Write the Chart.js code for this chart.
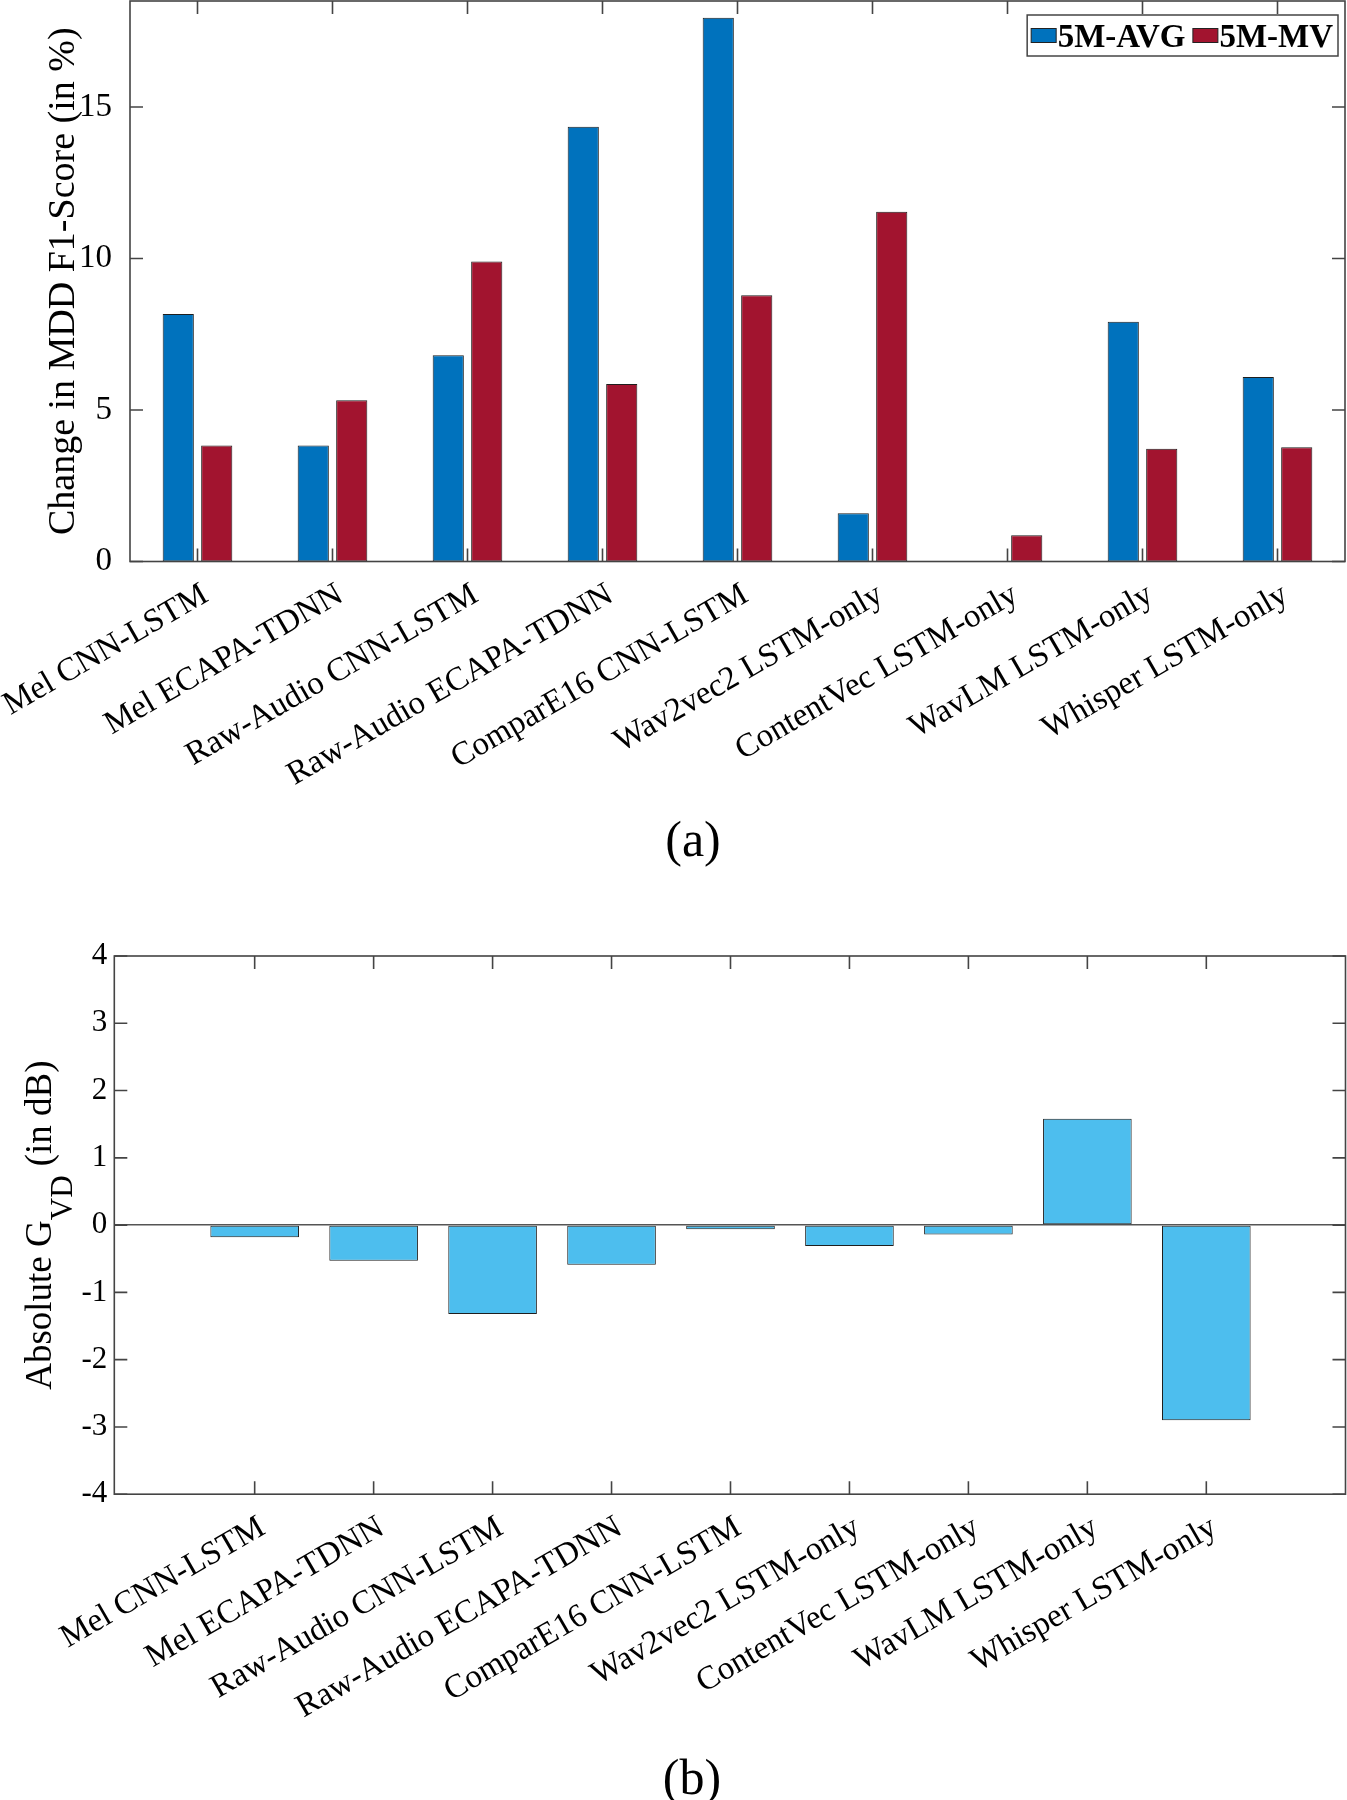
<!DOCTYPE html>
<html>
<head>
<meta charset="utf-8">
<script src="https://cdn.jsdelivr.net/npm/chart.js@4.4.1/dist/chart.umd.min.js"></script>
<style>
  body { margin: 0; background: #fff; }
  #page { position: relative; width: 1347px; height: 1800px; }
  canvas { position: absolute; left: 0; }
  .cap {
    position: absolute;
    font-family: "Liberation Serif", serif;
    font-size: 50px;
    line-height: 1;
    transform: translate(-50%, -50%);
    color: #000;
    white-space: nowrap;
  }
</style>
</head>
<body>
<div id="page">
  <canvas id="chartA" width="1347" height="800" style="top:0"></canvas>
  <div class="cap" style="left:693px; top:839px">(a)</div>
  <canvas id="chartB" width="1347" height="920" style="top:880px"></canvas>
  <div class="cap" style="left:692px; top:1777px">(b)</div>
</div>
<script>
// categories (same for both panels)
const models = [
  "Mel CNN-LSTM",
  "Mel ECAPA-TDNN",
  "Raw-Audio CNN-LSTM",
  "Raw-Audio ECAPA-TDNN",
  "ComparE16 CNN-LSTM",
  "Wav2vec2 LSTM-only",
  "ContentVec LSTM-only",
  "WavLM LSTM-only",
  "Whisper LSTM-only",
];

// (a) change in MDD F1-score, %
const avg5m = [8.17, 3.83, 6.81, 14.35, 17.95, 1.59, 0, 7.91, 6.09];
const mv5m = [3.83, 5.32, 9.90, 5.86, 8.79, 11.54, 0.87, 3.72, 3.77];
const yTicksA = [0, 5, 10, 15];

// (b) absolute G_VD, dB
const gvd = [-0.18, -0.53, -1.32, -0.59, -0.06, -0.31, -0.14, 1.58, -2.90];
const yTicksB = [-4, -3, -2, -1, 0, 1, 2, 3, 4];

const SERIF = '"Liberation Serif", "Times New Roman", serif';
Chart.defaults.font.family = SERIF;
Chart.defaults.color = "#000";

// matlab style box with inward ticks on all four sides
const frame = {
  id: "frame",
  afterDraw(chart, args, o) {
    const { ctx, chartArea: a, scales } = chart;
    const len = o.tickLen;
    ctx.save();
    ctx.strokeStyle = o.color;
    ctx.lineWidth = o.width;
    ctx.beginPath();
    scales.x.ticks.forEach((t, i) => {
      const px = scales.x.getPixelForTick(i);
      ctx.moveTo(px, a.bottom);
      ctx.lineTo(px, a.bottom - len);
      ctx.moveTo(px, a.top);
      ctx.lineTo(px, a.top + len);
    });
    scales.y.ticks.forEach((t, i) => {
      const py = scales.y.getPixelForTick(i);
      ctx.moveTo(a.left, py);
      ctx.lineTo(a.left + len, py);
      ctx.moveTo(a.right, py);
      ctx.lineTo(a.right - len, py);
    });
    ctx.stroke();
    ctx.strokeRect(a.left, a.top, a.right - a.left, a.bottom - a.top);
    ctx.restore();
  },
};

// boxed legend in the upper right corner, drawn from the datasets
const boxLegend = {
  id: "boxLegend",
  afterDraw(chart, args, o) {
    if (!o.show) return;
    const { ctx, chartArea: a } = chart;
    ctx.save();
    ctx.font = o.font;
    const items = chart.data.datasets.map((d) => ({
      label: d.label,
      color: d.backgroundColor,
      w: ctx.measureText(d.label).width,
    }));
    let total = o.padL + o.padR;
    items.forEach((it, i) => (total += o.boxW + o.gap + it.w + (i ? o.itemGap : 0)));
    const right = a.right - o.marginR;
    const left = right - total;
    const top = a.top + o.marginT;
    ctx.fillStyle = "#fff";
    ctx.fillRect(left, top, total, o.height);
    ctx.strokeStyle = "#444";
    ctx.lineWidth = 1.5;
    ctx.strokeRect(left, top, total, o.height);
    let x = left + o.padL;
    items.forEach((it, i) => {
      if (i) x += o.itemGap;
      const by = top + (o.height - o.boxH) / 2;
      ctx.fillStyle = it.color;
      ctx.fillRect(x, by, o.boxW, o.boxH);
      ctx.strokeStyle = "#222";
      ctx.lineWidth = 1;
      ctx.strokeRect(x, by, o.boxW, o.boxH);
      x += o.boxW + o.gap;
      ctx.fillStyle = "#000";
      ctx.textBaseline = "alphabetic";
      ctx.fillText(it.label, x, top + o.baseline);
      x += it.w;
    });
    ctx.restore();
  },
};

// rotated y title, supports a subscript part
const yTitle = {
  id: "yTitle",
  afterDraw(chart, args, o) {
    const { ctx, chartArea: a } = chart;
    ctx.save();
    const parts = o.parts.map((p) => {
      ctx.font = p.font;
      return { ...p, w: ctx.measureText(p.text).width };
    });
    const total = parts.reduce((s, p) => s + p.w, 0);
    ctx.translate(o.x, (a.top + a.bottom) / 2);
    ctx.rotate(-Math.PI / 2);
    ctx.fillStyle = "#000";
    ctx.textBaseline = "alphabetic";
    let x = -total / 2;
    parts.forEach((p) => {
      ctx.font = p.font;
      ctx.fillText(p.text, x, p.shift || 0);
      x += p.w;
    });
    ctx.restore();
  },
};

const fixSize = (w, h) => (scale) => {
  if (w !== undefined) scale.width = w;
  if (h !== undefined) scale.height = h;
  scale.paddingLeft = 0;
  scale.paddingRight = 0;
  scale.paddingTop = 0;
  scale.paddingBottom = 0;
};

// ---------- (a) ----------
new Chart(document.getElementById("chartA"), {
  type: "bar",
  data: {
    labels: models,
    datasets: [
      {
        label: "5M-AVG",
        data: avg5m,
        backgroundColor: "#0072BD",
        borderColor: "#1e1e1e",
        borderWidth: 1,
        borderSkipped: false,
        categoryPercentage: 0.57,
        barPercentage: 0.81,
      },
      {
        label: "5M-MV",
        data: mv5m,
        backgroundColor: "#A2142F",
        borderColor: "#1e1e1e",
        borderWidth: 1,
        borderSkipped: false,
        categoryPercentage: 0.57,
        barPercentage: 0.81,
      },
    ],
  },
  options: {
    responsive: false,
    animation: false,
    devicePixelRatio: 1,
    layout: { padding: { left: 0, top: 1, right: 2, bottom: 0 } },
    plugins: {
      legend: { display: false },
      tooltip: { enabled: false },
      frame: { tickLen: 13, color: "#444", width: 1.6 },
      boxLegend: {
        show: true,
        font: "bold 33px " + SERIF,
        padL: 4, padR: 5, boxW: 25, boxH: 14, gap: 1.5, itemGap: 7.5,
        height: 41, marginT: 14, marginR: 7, baseline: 31.5,
      },
      yTitle: {
        x: 74,
        parts: [{ text: "Change in MDD F1-Score (in %)", font: "38px " + SERIF }],
      },
    },
    scales: {
      x: {
        type: "category",
        offset: true,
        grid: { display: false },
        border: { display: false },
        ticks: {
          autoSkip: false,
          minRotation: 30,
          maxRotation: 30,
          padding: 6,
          labelOffset: 8,
          font: { size: 33 },
          color: "#000",
        },
        afterFit: fixSize(undefined, 238.5),
      },
      y: {
        min: 0,
        max: 18.5,
        grid: { display: false },
        border: { display: false },
        ticks: { padding: 10, font: { size: 33 }, color: "#000" },
        afterBuildTicks: (s) => { s.ticks = yTicksA.map((v) => ({ value: v })); },
        afterFit: fixSize(130, undefined),
      },
    },
  },
  plugins: [frame, boxLegend, yTitle],
});

// ---------- (b) ----------
new Chart(document.getElementById("chartB"), {
  type: "bar",
  data: {
    datasets: [
      {
        label: "Absolute G_VD",
        data: gvd.map((v, i) => ({ x: i + 1, y: v })),
        backgroundColor: "#4DBEEE",
        borderColor: "#1e1e1e",
        borderWidth: 1,
        borderSkipped: false,
        categoryPercentage: 1,
        barPercentage: 0.745,
      },
    ],
  },
  options: {
    responsive: false,
    animation: false,
    devicePixelRatio: 1,
    layout: { padding: { left: 0, top: 76, right: 1.5, bottom: 0 } },
    plugins: {
      legend: { display: false },
      tooltip: { enabled: false },
      frame: { tickLen: 13, color: "#444", width: 1.6 },
      boxLegend: { show: false },
      yTitle: {
        x: 50.5,
        parts: [
          { text: "Absolute G", font: "37px " + SERIF },
          { text: "VD", font: "31px " + SERIF, shift: 21 },
          { text: " (in dB)", font: "37px " + SERIF },
        ],
      },
    },
    scales: {
      x: {
        type: "linear",
        min: -0.18,
        max: 10.17,
        offset: false,
        grid: { display: false },
        border: { display: false },
        ticks: {
          autoSkip: false,
          minRotation: 30,
          maxRotation: 30,
          padding: 6,
          labelOffset: 8,
          font: { size: 33 },
          color: "#000",
          callback: (v) => models[v - 1] ?? "",
        },
        afterBuildTicks: (s) => { s.ticks = models.map((m, i) => ({ value: i + 1 })); },
        afterFit: fixSize(undefined, 305.8),
      },
      y: {
        min: -4,
        max: 4,
        grid: {
          display: true,
          drawTicks: false,
          lineWidth: 1.5,
          color: (c) => (c.tick && c.tick.value === 0 ? "#555" : "rgba(0,0,0,0)"),
        },
        border: { display: false },
        ticks: { padding: 7, font: { size: 31 }, color: "#000" },
        afterBuildTicks: (s) => { s.ticks = yTicksB.map((v) => ({ value: v })); },
        afterFit: fixSize(114.3, undefined),
      },
    },
  },
  plugins: [frame, boxLegend, yTitle],
});
</script>
</body>
</html>
